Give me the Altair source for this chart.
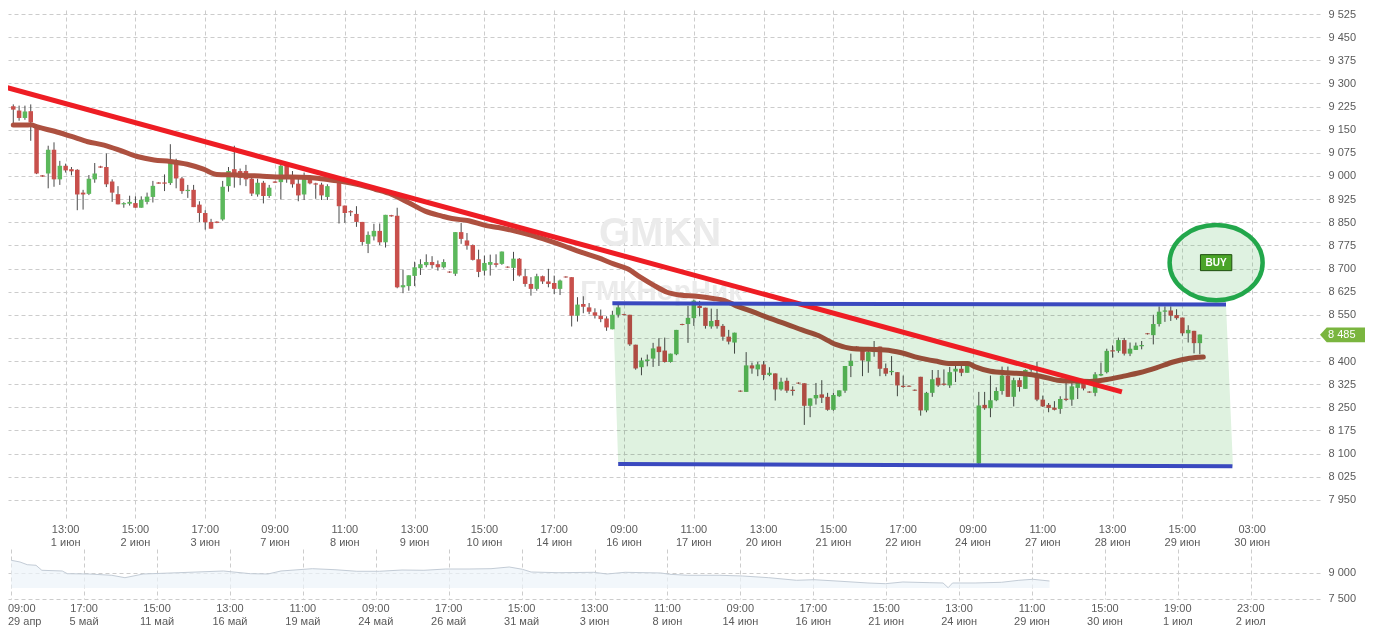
import altair as alt
import pandas as pd

# ---------------- data ----------------
opens = [
    9226, 9212, 9188, 9210, 9158, 9002, 9008, 9085, 8989, 9033,
    9022, 9020, 8946, 8942, 8989, 9031, 9029, 8982, 8941, 8908,
    8910, 8912, 8897, 8916, 8932, 8979, 8979, 8977, 9049, 8992,
    8951, 8955, 8907, 8880, 8851, 8852, 8859, 8967, 9022, 9016,
    9016, 8991, 8940, 8978, 8935, 8982, 8980, 9033, 9000, 8975,
    8940, 8989, 8976, 8972, 8932, 8992, 8980, 8904, 8886, 8877,
    8851, 8780, 8804, 8822, 8785, 8873, 8871, 8639, 8643, 8676,
    8701, 8711, 8721, 8714, 8704, 8690, 8683, 8818, 8791, 8776,
    8730, 8693, 8712, 8717, 8715, 8706, 8702, 8732, 8675, 8650,
    8634, 8675, 8658, 8653, 8634, 8674, 8672, 8547, 8585, 8574,
    8558, 8547, 8538, 8503, 8550, 8552, 8550, 8453, 8380, 8400,
    8408, 8447, 8434, 8397, 8422, 8520, 8520, 8539, 8579, 8573,
    8512, 8533, 8514, 8479, 8460, 8304, 8300, 8386, 8373, 8389,
    8355, 8360, 8308, 8336, 8307, 8330, 8328, 8255, 8279, 8292,
    8284, 8242, 8286, 8304, 8384, 8447, 8433, 8399, 8429, 8447,
    8377, 8364, 8364, 8320, 8320, 8307, 8349, 8240, 8297, 8346,
    8327, 8321, 8366, 8375, 8362, 8386, 8068, 8258, 8247, 8273,
    8303, 8353, 8284, 8338, 8310, 8372, 8353, 8275, 8258, 8249,
    8245, 8278, 8275, 8313, 8329, 8301, 8297, 8353, 8364, 8435,
    8433, 8468, 8424, 8436, 8448, 8490, 8484, 8520, 8560, 8564,
    8549, 8541, 8490, 8498, 8458,
]
highs = [
    9232, 9228, 9228, 9232, 9160, 9003, 9098, 9109, 9049, 9040,
    9029, 9022, 8955, 9003, 9042, 9033, 9073, 8989, 8967, 8915,
    8936, 8934, 8934, 8946, 8984, 8980, 9005, 9103, 9056, 8997,
    8971, 8971, 8918, 8889, 8861, 8853, 8984, 9029, 9098, 9024,
    9036, 9000, 8991, 8984, 8971, 8983, 9049, 9038, 9016, 8991,
    9011, 9002, 8978, 8978, 8973, 8996, 8980, 8904, 8889, 8902,
    8851, 8820, 8845, 8846, 8874, 8874, 8897, 8696, 8678, 8722,
    8730, 8746, 8740, 8726, 8730, 8691, 8818, 8848, 8815, 8778,
    8761, 8742, 8745, 8746, 8755, 8707, 8754, 8734, 8699, 8672,
    8683, 8677, 8699, 8677, 8664, 8675, 8672, 8607, 8610, 8588,
    8571, 8567, 8545, 8563, 8582, 8553, 8550, 8453, 8411, 8421,
    8459, 8474, 8476, 8424, 8501, 8521, 8579, 8599, 8595, 8573,
    8570, 8569, 8520, 8501, 8492, 8305, 8429, 8395, 8397, 8400,
    8380, 8360, 8346, 8346, 8318, 8331, 8328, 8279, 8329, 8338,
    8297, 8297, 8305, 8384, 8424, 8448, 8443, 8443, 8465, 8447,
    8392, 8416, 8364, 8353, 8321, 8308, 8349, 8300, 8371, 8371,
    8373, 8381, 8389, 8400, 8400, 8395, 8300, 8300, 8353, 8315,
    8382, 8382, 8346, 8346, 8373, 8380, 8397, 8288, 8264, 8270,
    8286, 8332, 8332, 8342, 8335, 8302, 8364, 8395, 8440, 8451,
    8476, 8475, 8460, 8460, 8465, 8491, 8550, 8577, 8577, 8577,
    8568, 8541, 8516, 8498, 8486,
]
lows = [
    9164, 9179, 9182, 9114, 9006, 8997, 8960, 8965, 8971, 9011,
    9002, 8889, 8891, 8938, 8978, 9026, 8964, 8916, 8908, 8897,
    8904, 8897, 8897, 8908, 8914, 8975, 8951, 8971, 8960, 8942,
    8929, 8899, 8851, 8826, 8829, 8847, 8855, 8949, 8962, 8970,
    8967, 8935, 8933, 8911, 8929, 8977, 8924, 8978, 8962, 8918,
    8922, 8973, 8926, 8922, 8922, 8986, 8846, 8848, 8870, 8835,
    8774, 8750, 8791, 8776, 8768, 8868, 8636, 8620, 8628, 8643,
    8679, 8704, 8700, 8693, 8700, 8686, 8676, 8780, 8761, 8726,
    8672, 8677, 8677, 8704, 8712, 8702, 8660, 8674, 8641, 8612,
    8628, 8650, 8639, 8617, 8614, 8670, 8512, 8528, 8555, 8552,
    8538, 8526, 8498, 8503, 8541, 8548, 8449, 8372, 8354, 8383,
    8381, 8384, 8395, 8395, 8419, 8516, 8459, 8514, 8545, 8505,
    8505, 8505, 8466, 8454, 8424, 8300, 8300, 8359, 8351, 8338,
    8351, 8272, 8304, 8297, 8288, 8326, 8193, 8218, 8259, 8264,
    8239, 8239, 8284, 8297, 8348, 8443, 8351, 8362, 8414, 8351,
    8351, 8354, 8286, 8313, 8316, 8303, 8223, 8234, 8284, 8316,
    8320, 8313, 8332, 8351, 8362, 8380, 8064, 8242, 8218, 8270,
    8291, 8284, 8253, 8301, 8310, 8365, 8270, 8251, 8234, 8240,
    8229, 8270, 8255, 8277, 8305, 8297, 8286, 8351, 8360, 8411,
    8427, 8418, 8416, 8436, 8438, 8486, 8454, 8512, 8527, 8530,
    8534, 8482, 8460, 8425, 8422,
]
closes = [
    9215, 9188, 9209, 9174, 9008, 8998, 9085, 8989, 9033, 9018,
    9015, 8940, 8940, 8991, 9008, 9027, 8973, 8946, 8908, 8912,
    8916, 8897, 8923, 8933, 8968, 8975, 8975, 9043, 8992, 8951,
    8955, 8899, 8880, 8850, 8829, 8848, 8965, 9016, 9008, 8994,
    8989, 8943, 8978, 8935, 8962, 8978, 9033, 8991, 8973, 8937,
    9002, 8976, 8972, 8937, 8967, 8988, 8902, 8880, 8882, 8851,
    8786, 8809, 8822, 8785, 8874, 8869, 8639, 8646, 8678, 8704,
    8714, 8721, 8711, 8704, 8721, 8687, 8818, 8796, 8774, 8728,
    8689, 8718, 8721, 8712, 8755, 8703, 8732, 8677, 8650, 8634,
    8675, 8658, 8650, 8634, 8661, 8671, 8547, 8583, 8576, 8560,
    8547, 8536, 8509, 8550, 8574, 8549, 8454, 8376, 8402, 8405,
    8441, 8429, 8397, 8424, 8501, 8517, 8540, 8596, 8572, 8514,
    8530, 8513, 8479, 8463, 8492, 8301, 8386, 8376, 8389, 8355,
    8362, 8308, 8333, 8304, 8303, 8327, 8255, 8279, 8290, 8281,
    8242, 8290, 8305, 8384, 8401, 8444, 8402, 8429, 8438, 8375,
    8359, 8368, 8321, 8316, 8317, 8304, 8240, 8297, 8341, 8321,
    8323, 8364, 8375, 8362, 8386, 8390, 8256, 8247, 8273, 8303,
    8353, 8284, 8338, 8316, 8371, 8376, 8275, 8253, 8248, 8242,
    8277, 8274, 8318, 8332, 8311, 8298, 8357, 8358, 8433, 8431,
    8468, 8424, 8440, 8450, 8452, 8487, 8520, 8560, 8564, 8547,
    8539, 8490, 8501, 8458, 8486,
]

# moving average (brown line): candle index -> value
ma_idx = [0, 2, 3, 4.3, 7.1, 10, 12.8, 15.6, 18.5, 21.3, 24.2, 27, 29.9, 32.7, 35,
          38.4, 40.4, 42.4, 45.2, 48, 51, 53.7, 56.6, 59.5, 62.2, 65.1, 68, 70.8,
          73.7, 75.4, 78.3, 81.3, 83.4, 86.1, 89, 91.9, 94.7, 97.6, 100.5, 103.2,
          105.6, 107.8, 110, 112.4, 114.6, 117.5, 120.3, 122.3, 124.3, 127.1, 130,
          132.9, 135.6, 138.5, 141.4, 144.1, 147, 149.9, 152.7, 155.6, 158.5,
          161.2, 164.1, 165.3, 168, 170.9, 173.8, 176.6, 179.5, 182.4, 185.1, 188,
          190.9, 193.6, 196.5, 199.4, 202.2, 204.6]
ma_val = [9165, 9165, 9166, 9158, 9145, 9128, 9111, 9100, 9082, 9063, 9052, 9047,
          9038, 9022, 9005, 9003, 9001, 9000, 8997, 8997, 8995, 8989, 8982, 8971,
          8957, 8940, 8913, 8886, 8870, 8862, 8855, 8839, 8833, 8822, 8808, 8791,
          8773, 8753, 8735, 8715, 8699, 8672, 8647, 8623, 8614, 8610, 8603, 8596,
          8579, 8560, 8539, 8520, 8501, 8482, 8454, 8441, 8438, 8436, 8427, 8411,
          8400, 8392, 8392, 8382, 8367, 8362, 8359, 8351, 8338, 8335, 8334, 8340,
          8351, 8362, 8378, 8397, 8409, 8413]

# red descending trend line
trend_idx = [-1.42, 190.6]
trend_val = [9288, 8300]

# blue channel lines
chan_top_idx = [103.0, 208.5]
chan_top_val = [8587, 8583]
chan_bot_idx = [104.0, 209.6]
chan_bot_val = [8066, 8059]

# shaded channel polygon
fill_idx = [103.1, 104.0, 208.5, 209.7]
fill_top = [8586, 8586, 8582, 8058]
fill_bot = [8586, 8066, 8059, 8058]

# BUY annotation and last price
buy_idx = [206.8]
buy_val = [8719]
last_price = 8485

# watermark
wm_text = ["GMKN", "ГМКНорНик"]
wm_idx = [111.2, 111.4]
wm_val = [8812, 8624]
wm_size = [40, 28]

# main x-axis labels
main_tick_idx = list(range(9, 214, 12))
main_times = ["13:00", "15:00", "17:00", "09:00", "11:00", "13:00", "15:00", "17:00", "09:00",
              "11:00", "13:00", "15:00", "17:00", "09:00", "11:00", "13:00", "15:00", "03:00"]
main_dates = ["1 июн", "2 июн", "3 июн", "7 июн", "8 июн", "9 июн", "10 июн", "14 июн", "16 июн",
              "17 июн", "20 июн", "21 июн", "22 июн", "24 июн", "27 июн", "28 июн", "29 июн", "30 июн"]
price_ticks = list(range(7950, 9526, 75))
hidden_price_label = 8475  # covered by the last-price tag in the reference

# navigator
nav_u = [0, 0.12, 0.22, 0.34, 0.42, 0.70, 0.77, 1.07, 1.38, 1.56, 1.81, 2.30, 2.91, 3.28,
         3.52, 3.70, 4.13, 4.44, 4.74, 5.05, 5.36, 5.66, 5.96, 6.28, 6.58, 6.83, 7.01,
         7.13, 7.50, 7.99, 8.17, 8.42, 8.91, 9.03, 9.28, 9.72, 10.03, 10.39, 10.77,
         11.01, 11.38, 11.75, 11.99, 12.23, 12.60, 12.78, 12.85, 12.91, 13.22, 13.58,
         13.82, 14.01, 14.24]
nav_v = [9747, 9647, 9488, 9453, 9159, 9118, 8959, 8941, 8865, 8724, 8941, 9018, 9118,
         8959, 8941, 9118, 9253, 9194, 9100, 9100, 9176, 9159, 9235, 9235, 9253, 9353,
         9218, 9059, 9018, 9041, 8941, 9041, 9000, 8924, 8865, 8865, 8824, 8724, 8571,
         8606, 8512, 8412, 8371, 8471, 8430, 8412, 8136, 8412, 8412, 8453, 8571, 8630,
         8530]
nav_base = 8118
nav_ticks = list(range(0, 18))
nav_times = ["09:00", "17:00", "15:00", "13:00", "11:00", "09:00", "17:00", "15:00", "13:00",
             "11:00", "09:00", "17:00", "15:00", "13:00", "11:00", "15:00", "19:00", "23:00"]
nav_dates = ["29 апр", "5 май", "11 май", "16 май", "19 май", "24 май", "26 май", "31 май", "3 июн",
             "8 июн", "14 июн", "16 июн", "21 июн", "24 июн", "29 июн", "30 июн", "1 июл", "2 июл"]
nav_price_ticks = [7500, 9000]

# ---------------- layout / style ----------------
W, H, HN = 1312, 509, 50
X0, X1 = -0.05, 223.8
Y0, Y1 = 7888, 9538
NX0, NX1 = -0.044, 17.95
NY0, NY1 = 7471, 10411

FONT = "Liberation Sans"
LABEL = "#5a5a5a"
GRID = "#cccccc"
GREEN = "#5cb85c"
RED = "#c8504c"
BROWN = "#ad5140"

ELLIPSE = "M -1.237 0 A 1.237 1 0 1 0 1.237 0 A 1.237 1 0 1 0 -1.237 0 Z"
BUTTON = "M -1.96 -1 L 1.96 -1 L 1.96 1 L -1.96 1 Z"
TAG = "M -3.06 0 L -2.15 -1 L 3.06 -1 L 3.06 1 L -2.15 1 Z"
FMT = "replace(format(datum.value, ','), ',', ' ')"
MAIN_FMT = f"datum.value == {hidden_price_label} ? '' : " + FMT

cdf = pd.DataFrame({"i": range(len(opens)), "o": opens, "h": highs, "l": lows, "c": closes})
cdf["dir"] = ["up" if c > o else "down" for o, c in zip(opens, closes)]
ma_df = pd.DataFrame({"i": ma_idx, "v": ma_val})
trend_df = pd.DataFrame({"i": trend_idx, "p": trend_val})
chan_df = pd.DataFrame({
    "i": chan_top_idx + chan_bot_idx,
    "p": chan_top_val + chan_bot_val,
    "g": ["top"] * 2 + ["bottom"] * 2,
})
fill_df = pd.DataFrame({"i": fill_idx, "top": fill_top, "bot": fill_bot})
buy_df = pd.DataFrame({"i": buy_idx, "p": buy_val, "t": ["BUY"]})
last_df = pd.DataFrame({"p": [last_price], "t": [f"{last_price:,}".replace(",", " ")]})
wm_df = pd.DataFrame({"i": wm_idx, "p": wm_val, "t": wm_text, "fs": wm_size})
xl_df = pd.DataFrame({"i": main_tick_idx,
                      "t": [a + "\n" + b for a, b in zip(main_times, main_dates)]})

xs = alt.Scale(domain=[X0, X1], nice=False, zero=False)
ys = alt.Scale(domain=[Y0, Y1], nice=False, zero=False)
x_axis = alt.Axis(values=main_tick_idx, labels=False, ticks=False, domain=False,
                  grid=True, title=None)
y_axis = alt.Axis(orient="right", values=price_ticks, labelExpr=MAIN_FMT, ticks=False,
                  domain=False, grid=True, title=None, labelPadding=8)


def X(f):
    return alt.X(f, type="quantitative", scale=xs, axis=x_axis)


def Y(f):
    return alt.Y(f, type="quantitative", scale=ys, axis=y_axis)


watermark = alt.Chart(wm_df).mark_text(font=FONT, fontWeight="bold", color="#ebebeb").encode(
    x=X("i"), y=Y("p"), text="t:N", size=alt.Size("fs:Q", scale=None, legend=None))
wicks = alt.Chart(cdf).mark_rule(color="#4a4a4a", strokeWidth=1, clip=True).encode(
    x=X("i"), y=Y("l"), y2="h")
bodies = alt.Chart(cdf).mark_bar(size=4.5, clip=True).encode(
    x=X("i"), y=Y("o"), y2="c",
    color=alt.Color("dir:N", scale=alt.Scale(domain=["up", "down"], range=[GREEN, RED]),
                    legend=None))
ma_line = alt.Chart(ma_df).mark_line(color=BROWN, strokeWidth=5, interpolate="monotone",
                                     strokeCap="round", clip=True).encode(x=X("i"), y=Y("v"))
shade = alt.Chart(fill_df).mark_area(color="#dff2e0", blend="multiply").encode(
    x=X("i"), y=Y("top"), y2="bot")
trend = alt.Chart(trend_df).mark_line(color="#ee1d24", strokeWidth=5, clip=True).encode(
    x=X("i"), y=Y("p"))
channel = alt.Chart(chan_df).mark_line(color="#3a49bf", strokeWidth=4).encode(
    x=X("i"), y=Y("p"), detail="g:N")
ellipse = alt.Chart(buy_df).mark_point(shape=ELLIPSE, size=5655, fill="#5fbf6a",
                                       fillOpacity=0.2, stroke="#22a74b", strokeWidth=4.5,
                                       opacity=1).encode(x=X("i"), y=Y("p"))
button = alt.Chart(buy_df).mark_point(shape=BUTTON, size=256, fill="#4aa428", fillOpacity=1,
                                      stroke="#1f4f10", strokeWidth=1, opacity=1).encode(
    x=X("i"), y=Y("p"))
button_text = alt.Chart(buy_df).mark_text(font=FONT, fontWeight="bold", fontSize=10,
                                          color="white").encode(x=X("i"), y=Y("p"), text="t:N")
tag = alt.Chart(last_df).mark_point(shape=TAG, size=216, fill="#7ab53f", fillOpacity=1,
                                    strokeWidth=0, opacity=1).encode(
    x=alt.value(W + 22.5), y=Y("p"))
tag_text = alt.Chart(last_df).mark_text(font=FONT, fontSize=11, color="white", align="left",
                                        baseline="middle").encode(
    x=alt.value(W + 8), y=Y("p"), text="t:N")
x_labels = alt.Chart(xl_df).mark_text(font=FONT, fontSize=11, color=LABEL, lineBreak="\n",
                                      lineHeight=13, baseline="top", align="center").encode(
    x=X("i"), y=alt.value(H + 4.5), text="t:N")

main = alt.layer(watermark, wicks, bodies, ma_line, shade, trend, channel, ellipse, button,
                 button_text, tag, tag_text, x_labels).properties(width=W, height=H)

# navigator
nav_df = pd.DataFrame({"u": nav_u, "v": nav_v, "b": [nav_base] * len(nav_u)})
nxs = alt.Scale(domain=[NX0, NX1], nice=False, zero=False)
nys = alt.Scale(domain=[NY0, NY1], nice=False, zero=False)
nx_axis = alt.Axis(values=nav_ticks, labels=False, ticks=False, domain=False, grid=True,
                   title=None)
ny_axis = alt.Axis(orient="right", values=nav_price_ticks, labelExpr=FMT, ticks=False,
                   domain=False, grid=True, title=None, labelPadding=8)
NXe = alt.X("u:Q", scale=nxs, axis=nx_axis)
nl_df = pd.DataFrame({"u": nav_ticks[1:],
                      "t": [a + "\n" + b for a, b in zip(nav_times[1:], nav_dates[1:])]})
nl0_df = pd.DataFrame({"u": [NX0], "t": [nav_times[0] + "\n" + nav_dates[0]]})

nav_area = alt.Chart(nav_df).mark_area(color="#edf3fa",
                                       line={"color": "#c3ccd6", "strokeWidth": 1}).encode(
    x=NXe, y=alt.Y("v:Q", scale=nys, axis=ny_axis), y2="b")
nav_labels = alt.Chart(nl_df).mark_text(font=FONT, fontSize=11, color=LABEL, lineBreak="\n",
                                        lineHeight=13, baseline="top", align="center").encode(
    x=NXe, y=alt.value(HN + 3.5), text="t:N")
nav_label0 = alt.Chart(nl0_df).mark_text(font=FONT, fontSize=11, color=LABEL, lineBreak="\n",
                                         lineHeight=13, baseline="top", align="left").encode(
    x=NXe, y=alt.value(HN + 3.5), text="t:N")
nav = alt.layer(nav_area, nav_labels, nav_label0).properties(width=W, height=HN)

chart = alt.vconcat(main, nav, spacing=30, bounds="flush", padding=0).configure_axis(
    gridColor=GRID, gridDash=[4, 3], gridWidth=1, labelFont=FONT, labelFontSize=11,
    labelColor=LABEL
).configure_view(stroke=None)

chart.save("out.html", embed_options={"renderer": "svg", "actions": False})
